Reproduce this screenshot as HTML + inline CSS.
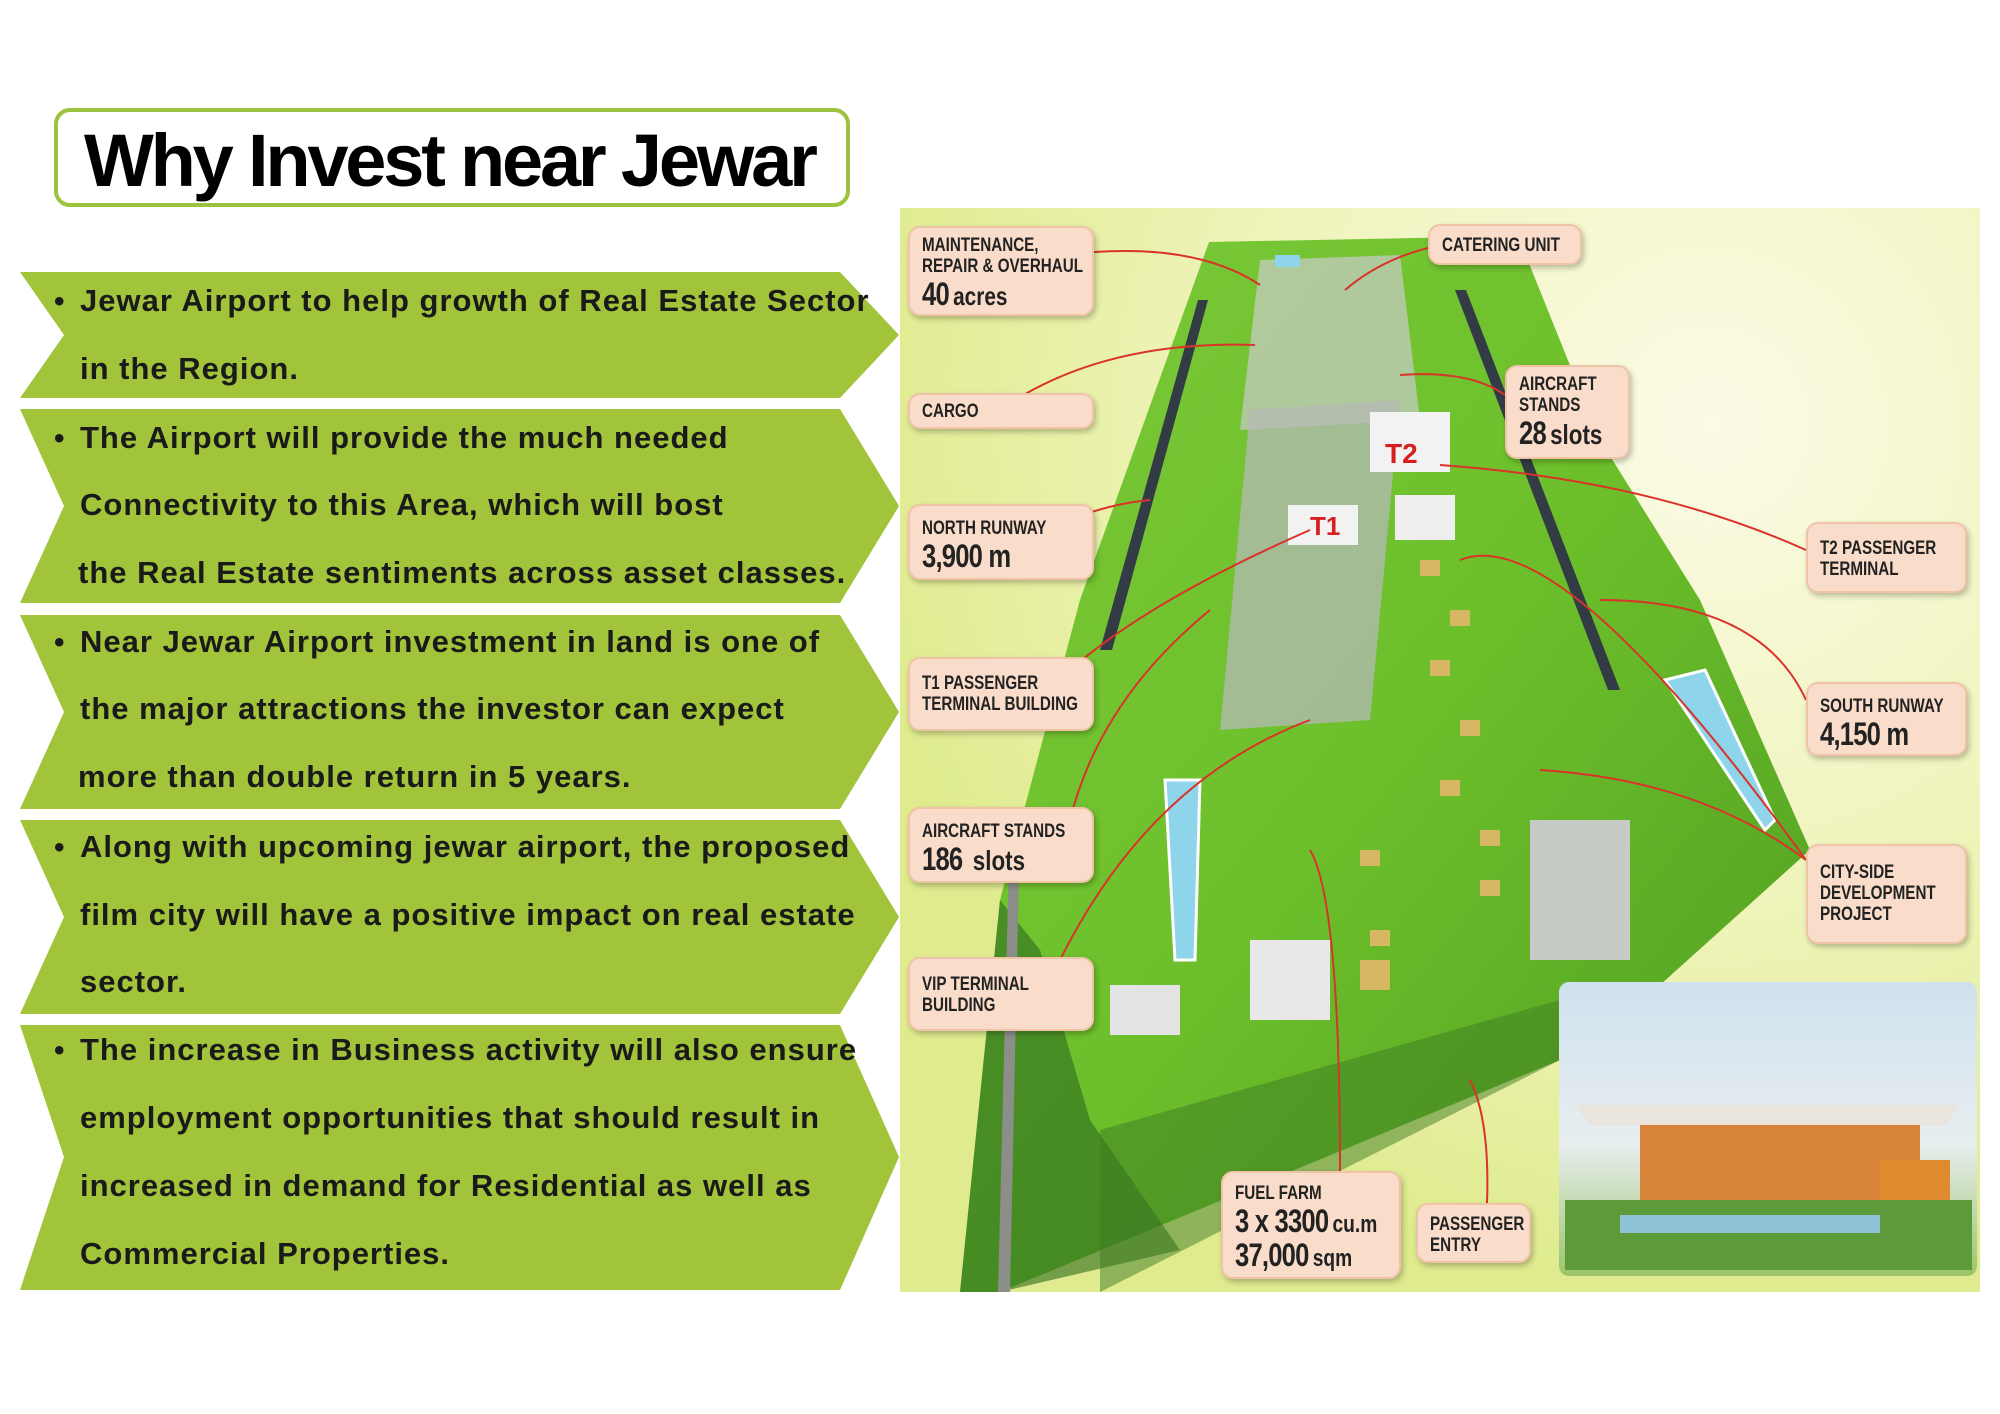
<!DOCTYPE html>
<html><head><meta charset="utf-8">
<style>
html,body{margin:0;padding:0;background:#fff;}
body{width:2000px;height:1414px;position:relative;overflow:hidden;font-family:"Liberation Sans",sans-serif;}
.title{position:absolute;left:54px;top:108px;width:796px;height:99px;border:4px solid #9cc23e;border-radius:16px;box-sizing:border-box;background:#fff;}
.title span{position:absolute;left:26px;top:6px;font-weight:bold;font-size:74px;letter-spacing:-3.2px;color:#000;white-space:nowrap;}
svg.bands{position:absolute;left:0;top:0;}
.t{position:absolute;left:80px;font-size:31px;font-weight:bold;color:#1a1a1a;white-space:nowrap;letter-spacing:1px;}
.b{position:absolute;left:54px;font-size:30px;font-weight:bold;color:#1a1a1a;}
.lab{position:absolute;background:#f9ddca;border:2px solid #efc3a6;border-radius:12px;box-shadow:2px 3px 6px rgba(0,0,0,.25);box-sizing:border-box;font-weight:bold;color:#222;font-size:19px;line-height:21px;padding:8px 12px;white-space:nowrap;}
.lab .in{display:inline-block;transform:scaleX(0.8);transform-origin:0 0;}
.lab b{font-size:32px;line-height:34px;letter-spacing:-1px;}
</style></head><body>
<div class="title"><span>Why Invest near Jewar</span></div>

<svg class="bands" width="2000" height="1414">
<defs>
<radialGradient id="bg" cx="0.75" cy="0.2" r="0.8"><stop offset="0" stop-color="#fbfbe6"/><stop offset="0.6" stop-color="#eef3b6"/><stop offset="1" stop-color="#dfeb8e"/></radialGradient>
<linearGradient id="gr" x1="0" y1="0" x2="1" y2="1"><stop offset="0" stop-color="#7cc93a"/><stop offset="0.5" stop-color="#6cbf2a"/><stop offset="1" stop-color="#4e9a22"/></linearGradient>
<linearGradient id="sky" x1="0" y1="0" x2="0" y2="1"><stop offset="0" stop-color="#cfe1ee"/><stop offset="0.55" stop-color="#e8eef0"/><stop offset="1" stop-color="#9cc46a"/></linearGradient>
</defs>
<g fill="#a1c43a">
<polygon points="20,272 840,272 899,335 840,398 20,398 64,335"/>
<polygon points="20,409 840,409 899,506 840,603 20,603 64,506"/>
<polygon points="20,615 840,615 899,712 840,809 20,809 64,712"/>
<polygon points="20,820 840,820 899,917 840,1014 20,1014 64,917"/>
<polygon points="20,1025 840,1025 899,1157 840,1290 20,1290 64,1157"/>
</g>
<rect x="900" y="208" width="1080" height="1084" fill="url(#bg)"/>
<polygon points="1209,242 1518,236 1600,440 1700,600 1810,850 1660,985 1560,1010 1560,1060 1000,1292 960,1292 1000,900 1080,600" fill="url(#gr)"/>
<polygon points="960,1292 1000,900 1040,950 1090,1120 1180,1250 1000,1292" fill="#2f6b1e" opacity="0.6"/>
<polygon points="1100,1130 1560,1000 1560,1060 1100,1292" fill="#3d7b22" opacity="0.5"/>
<polygon points="1198,300 1208,300 1112,650 1100,650" fill="#333b44"/>
<polygon points="1455,290 1466,290 1620,690 1608,690" fill="#333b44"/>
<polygon points="1260,260 1400,255 1420,420 1240,430" fill="#c9ccc9" opacity="0.7"/>
<polygon points="1250,410 1400,400 1370,720 1220,730" fill="#b6b9b6" opacity="0.75"/>
<rect x="1370" y="412" width="80" height="60" fill="#f2f2f2"/>
<text x="1385" y="463" font-family="Liberation Sans" font-weight="bold" font-size="28" fill="#d62020">T2</text>
<rect x="1288" y="505" width="70" height="40" fill="#f2f2f2"/>
<text x="1310" y="535" font-family="Liberation Sans" font-weight="bold" font-size="26" fill="#d62020">T1</text>
<rect x="1395" y="495" width="60" height="45" fill="#eee"/>
<g fill="#d8b764"><rect x="1420" y="560" width="20" height="16"/><rect x="1450" y="610" width="20" height="16"/><rect x="1430" y="660" width="20" height="16"/><rect x="1460" y="720" width="20" height="16"/><rect x="1440" y="780" width="20" height="16"/><rect x="1480" y="830" width="20" height="16"/><rect x="1360" y="850" width="20" height="16"/><rect x="1370" y="930" width="20" height="16"/><rect x="1480" y="880" width="20" height="16"/><rect x="1360" y="960" width="30" height="30"/></g>
<rect x="1530" y="820" width="100" height="140" fill="#c7cbc6"/>
<rect x="1250" y="940" width="80" height="80" fill="#e8e8e8"/>
<rect x="1110" y="985" width="70" height="50" fill="#e4e4e4"/>
<polygon points="1165,780 1200,780 1195,960 1175,960" fill="#8ed4ea" stroke="#fff" stroke-width="3"/>
<polygon points="1665,680 1705,670 1775,820 1765,830" fill="#8ed4ea" stroke="#fff" stroke-width="3"/>
<rect x="1275" y="255" width="25" height="12" fill="#8ed4ea"/>
<polygon points="1010,820 1020,820 1010,1292 998,1292" fill="#8c8e8a"/>
<rect x="1559" y="982" width="418" height="294" rx="10" fill="url(#sky)"/>
<polygon points="1575,1105 1960,1105 1945,1125 1590,1125" fill="#e9e4dc"/>
<rect x="1640" y="1125" width="280" height="80" fill="#d8843a"/>
<rect x="1880" y="1160" width="70" height="70" fill="#e08a30"/>
<rect x="1565" y="1200" width="407" height="70" fill="#5d9a3a"/>
<rect x="1620" y="1215" width="260" height="18" fill="#8fc3d6"/>
<g fill="none" stroke="#d9332a" stroke-width="2">
<path d="M1094,252 Q1200,245 1260,285"/>
<path d="M1428,248 Q1380,260 1345,290"/>
<path d="M1000,410 Q1100,340 1255,345"/>
<path d="M1505,395 Q1470,370 1400,375"/>
<path d="M1060,525 Q1100,505 1150,500"/>
<path d="M1806,550 Q1650,480 1440,465"/>
<path d="M1070,670 Q1150,600 1310,530"/>
<path d="M1806,700 Q1760,600 1600,600"/>
<path d="M1070,820 Q1100,700 1210,610"/>
<path d="M1806,860 Q1700,780 1540,770"/>
<path d="M1806,860 Q1560,520 1460,560"/>
<path d="M1060,960 Q1150,780 1310,720"/>
<path d="M1340,1171 Q1340,900 1310,850"/>
<path d="M1487,1203 Q1490,1120 1470,1080"/>
</g>
</svg>

<span class="b" style="top:285px">•</span><span class="t" style="top:283px">Jewar Airport to help growth of Real Estate Sector</span>
<span class="t" style="top:351px">in the Region.</span>
<span class="b" style="top:422px">•</span><span class="t" style="top:420px">The Airport will provide the much needed</span>
<span class="t" style="top:487px">Connectivity to this Area, which will bost</span>
<span class="t" style="top:555px;left:78px">the Real Estate sentiments across asset classes.</span>
<span class="b" style="top:626px">•</span><span class="t" style="top:624px">Near Jewar Airport investment in land is one of</span>
<span class="t" style="top:691px">the major attractions the investor can expect</span>
<span class="t" style="top:759px;left:78px">more than double return in 5 years.</span>
<span class="b" style="top:831px">•</span><span class="t" style="top:829px">Along with upcoming jewar airport, the proposed</span>
<span class="t" style="top:897px">film city will have a positive impact on real estate</span>
<span class="t" style="top:964px">sector.</span>
<span class="b" style="top:1034px">•</span><span class="t" style="top:1032px">The increase in Business activity will also ensure</span>
<span class="t" style="top:1100px">employment opportunities that should result in</span>
<span class="t" style="top:1168px">increased in demand for Residential as well as</span>
<span class="t" style="top:1236px">Commercial Properties.</span>

<div class="lab" style="left:908px;top:226px;width:186px;height:90px;padding-top:7px"><div class="in">MAINTENANCE,<br>REPAIR &amp; OVERHAUL<br><b>40</b> <span style="font-size:26px">acres</span></div></div>
<div class="lab" style="left:1428px;top:224px;width:154px;height:41px;padding-top:9px"><div class="in">CATERING UNIT</div></div>
<div class="lab" style="left:908px;top:393px;width:186px;height:36px;padding-top:6px"><div class="in">CARGO</div></div>
<div class="lab" style="left:1505px;top:365px;width:125px;height:94px;padding-top:7px"><div class="in">AIRCRAFT<br>STANDS<br><b>28</b> <span style="font-size:28px">slots</span></div></div>
<div class="lab" style="left:908px;top:504px;width:186px;height:76px;padding-top:12px"><div class="in">NORTH RUNWAY<br><b>3,900 m</b></div></div>
<div class="lab" style="left:1806px;top:522px;width:161px;height:71px;padding-top:14px"><div class="in">T2 PASSENGER<br>TERMINAL</div></div>
<div class="lab" style="left:908px;top:657px;width:186px;height:74px;padding-top:14px"><div class="in">T1 PASSENGER<br>TERMINAL BUILDING</div></div>
<div class="lab" style="left:1806px;top:682px;width:161px;height:74px;padding-top:12px"><div class="in">SOUTH RUNWAY<br><b>4,150 m</b></div></div>
<div class="lab" style="left:908px;top:807px;width:186px;height:76px;padding-top:12px"><div class="in">AIRCRAFT STANDS<br><b>186</b> <span style="font-size:28px">&nbsp;slots</span></div></div>
<div class="lab" style="left:1806px;top:844px;width:161px;height:100px;padding-top:16px"><div class="in">CITY-SIDE<br>DEVELOPMENT<br>PROJECT</div></div>
<div class="lab" style="left:908px;top:957px;width:186px;height:74px;padding-top:15px"><div class="in">VIP TERMINAL<br>BUILDING</div></div>
<div class="lab" style="left:1221px;top:1171px;width:180px;height:108px;padding-top:10px"><div class="in">FUEL FARM<br><b>3 x 3300</b> <span style="font-size:24px">cu.m</span><br><b>37,000</b> <span style="font-size:24px">sqm</span></div></div>
<div class="lab" style="left:1416px;top:1203px;width:115px;height:60px;padding-top:9px"><div class="in">PASSENGER<br>ENTRY</div></div>
</body></html>
